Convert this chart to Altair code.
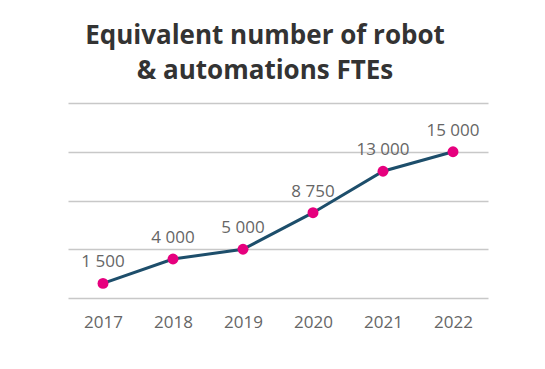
import altair as alt
import pandas as pd

years = ["2017", "2018", "2019", "2020", "2021", "2022"]
values = [1500, 4000, 5000, 8750, 13000, 15000]
labels = ["1 500", "4 000", "5 000", "8 750", "13 000", "15 000"]

df = pd.DataFrame({"year": years, "value": values, "label": labels})

x = alt.X("year:O", scale=alt.Scale(type="point", padding=0.5),
          axis=alt.Axis(title=None, labelAngle=0, ticks=False, domain=False,
                        labelFont="Open Sans", labelFontSize=17, labelColor="#666666",
                        labelPadding=16))
y = alt.Y("value:Q", scale=alt.Scale(domain=[0, 20000]),
          axis=alt.Axis(title=None, labels=False, ticks=False, domain=False,
                        values=[0, 5000, 10000, 15000, 20000],
                        gridColor="#c8c8c8", gridWidth=1.5))

base = alt.Chart(df).encode(x=x, y=y)

line = base.mark_line(color="#1d4e6b", strokeWidth=3)
pts = base.mark_circle(color="#e6007e", size=120, opacity=1)
txt = base.mark_text(dy=-21, font="Open Sans", fontSize=17, color="#666666").encode(text="label:N")

chart = (line + pts + txt).properties(
    width=420, height=195,
    autosize=alt.AutoSizeParams(type="none"),
    padding={"left": 60, "top": 95, "right": 20, "bottom": 50},
    title=alt.TitleParams(
        text=["Equivalent number of robot", "& automations FTEs"],
        font="Open Sans", fontSize=26, fontWeight="bold", color="#333333",
        anchor="middle", dx=-13, offset=19, lineHeight=35,
    ),
).configure_view(stroke=None)

chart.save("out.html", embed_options={"renderer": "svg", "actions": False})
